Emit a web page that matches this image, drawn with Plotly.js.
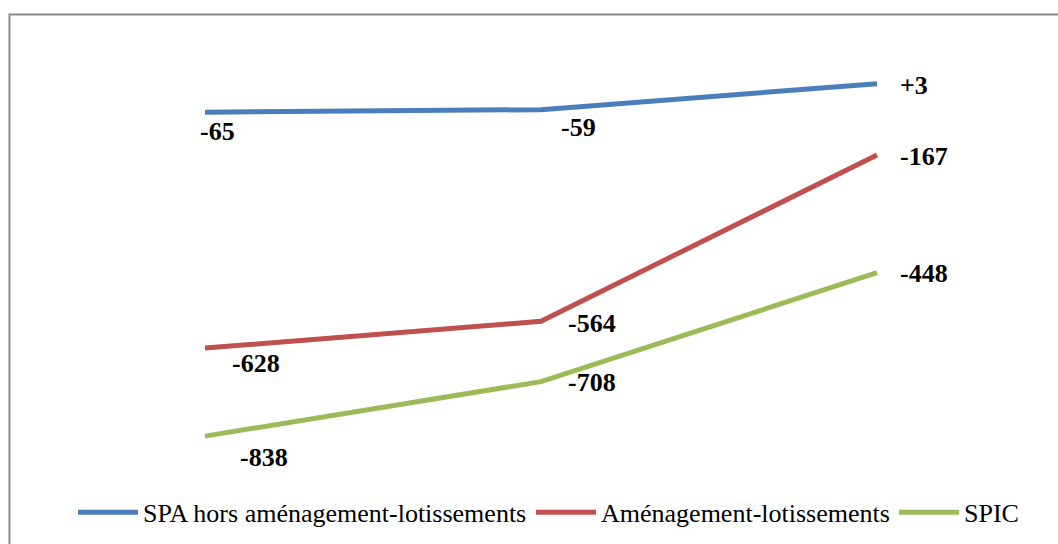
<!DOCTYPE html>
<html>
<head>
<meta charset="utf-8">
<script src="https://cdn.plot.ly/plotly-3.0.1.min.js"></script>
<style>html,body{margin:0;padding:0;background:#fff;}#chart{width:1058px;height:544px;}</style>
</head>
<body>
<div id="chart"></div>
<script>
// ---- data ----
const categories = [0, 1, 2];
const seriesNames = ["SPA hors aménagement-lotissements", "Aménagement-lotissements", "SPIC"];
const spaValues = [-65, -59, 3];
const amenValues = [-628, -564, -167];
const spicValues = [-838, -708, -448];
const spaLabels = ["-65", "-59", "+3"];
const amenLabels = ["-628", "-564", "-167"];
const spicLabels = ["-838", "-708", "-448"];

// ---- styles ----
const colors = ["#4A7EBB", "#C0504D", "#9BBB59"];
const FONT = "'Liberation Serif', 'Times New Roman', serif";
// label offsets in pixels [dx, dy(down)] per series per point
const offsets = [
  [[-7, 19], [18, 18], [21, 2]],
  [[25, 15], [25, 2], [21, 2]],
  [[33, 21], [25, 1], [21, 1]]
];
const legendIds = ["legend", "legend2", "legend3"];
const legendX = [0.0357, 0.4901, 0.8502];

const seriesVals = [spaValues, amenValues, spicValues];
const seriesLabels = [spaLabels, amenLabels, spicLabels];

const traces = seriesVals.map((vals, i) => ({
  x: categories,
  y: vals,
  name: seriesNames[i],
  legend: legendIds[i],
  type: "scatter",
  mode: "lines",
  line: {color: colors[i], width: 5},
  hoverinfo: "skip"
}));

const annotations = [];
seriesVals.forEach((vals, i) => {
  vals.forEach((v, j) => {
    annotations.push({
      x: categories[j], y: v, xref: "x", yref: "y",
      text: seriesLabels[i][j],
      showarrow: false,
      xanchor: "left", yanchor: "middle",
      xshift: offsets[i][j][0], yshift: -offsets[i][j][1],
      font: {family: FONT, size: 26, color: "#000", weight: "bold"}
    });
  });
});

const layout = {
  width: 1058, height: 544,
  margin: {l: 37, r: 13, t: 43, b: 40, pad: 0, autoexpand: false},
  paper_bgcolor: "#fff", plot_bgcolor: "#fff",
  showlegend: true,
  font: {family: FONT, color: "#000"},
  xaxis: {range: [-0.5, 2.5], visible: false, fixedrange: true},
  yaxis: {range: [-1000, 100], visible: false, fixedrange: true},
  annotations: annotations,
  shapes: [{
    type: "rect", xref: "paper", yref: "paper",
    x0: -0.0273, x1: 1.05, y0: -0.3, y1: 1.0618,
    line: {color: "#8A8A8A", width: 2}, fillcolor: "rgba(0,0,0,0)", layer: "below"
  }]
};
legendIds.forEach((id, i) => {
  layout[id] = {
    orientation: "h", x: legendX[i], xanchor: "left", y: -0.018, yanchor: "middle",
    font: {family: FONT, size: 26, color: "#000"},
    itemwidth: 60, bgcolor: "rgba(0,0,0,0)", borderwidth: 0
  };
});

Plotly.newPlot("chart", traces, layout, {displayModeBar: false, staticPlot: true});
</script>
</body>
</html>
